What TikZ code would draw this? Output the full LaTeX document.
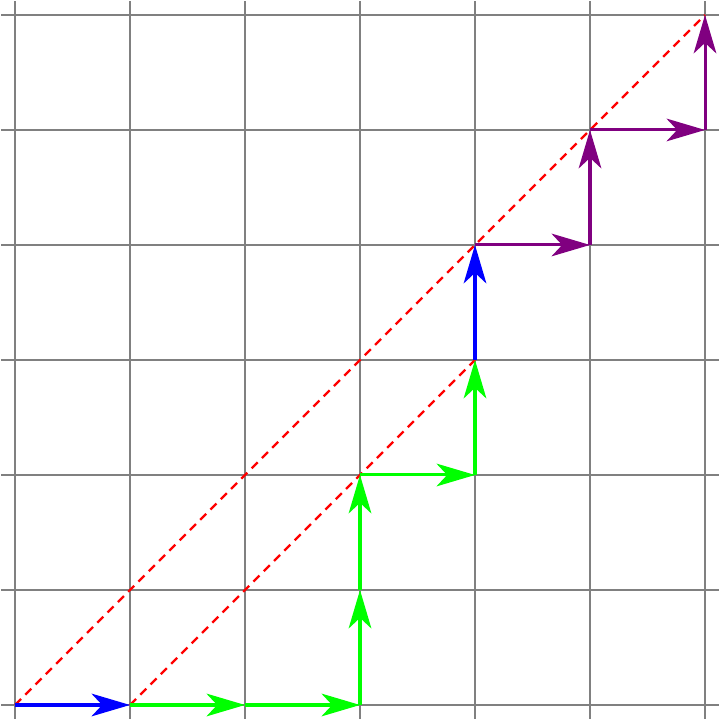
\documentclass[tikz,border=0pt]{standalone}
\usetikzlibrary{arrows.meta}
\definecolor{gridgray}{RGB}{128,128,128}
\definecolor{mpurple}{RGB}{128,0,128}
\tikzset{
  gridline/.style={draw=gridgray, line width=0.45pt},
  vec/.style={line width=0.75pt, -{Stealth[length=9.5pt,width=5.6pt,inset=2.6pt]}},
  diag/.style={draw=red, line width=0.6pt, dash pattern=on 2.1pt off 1.5pt},
}
\begin{document}
\begin{tikzpicture}
\useasboundingbox (-0.1304,-0.1217) rectangle (6.1304,6.1304);
\foreach \i in {0,...,6} {
  \draw[gridline] (\i,-0.12) -- (\i,6.12);
  \draw[gridline] (-0.12,\i) -- (6.12,\i);
}
\foreach \x/\y in {0/0,1/0,2/0,3/0,3/1,3/2,4/2,4/3,4/4,5/4,5/5,6/5,6/6} {
  \coordinate (p\x\y) at (\x,\y);
}
\draw[diag] (p00) -- (p66);
\draw[diag] (p10) -- (p43);
\draw[vec, blue] (p00) -- (p10);
\draw[vec, green] (p10) -- (p20);
\draw[vec, green] (p20) -- (p30);
\draw[vec, green] (p30) -- (p31);
\draw[vec, green] (p31) -- (p32);
\draw[vec, green] (p32) -- (p42);
\draw[vec, green] (p42) -- (p43);
\draw[vec, blue] (p43) -- (p44);
\draw[vec, mpurple] (p44) -- (p54);
\draw[vec, mpurple] (p54) -- (p55);
\draw[vec, mpurple] (p55) -- (p65);
\draw[vec, mpurple] (p65) -- (p66);
\end{tikzpicture}
\end{document}
